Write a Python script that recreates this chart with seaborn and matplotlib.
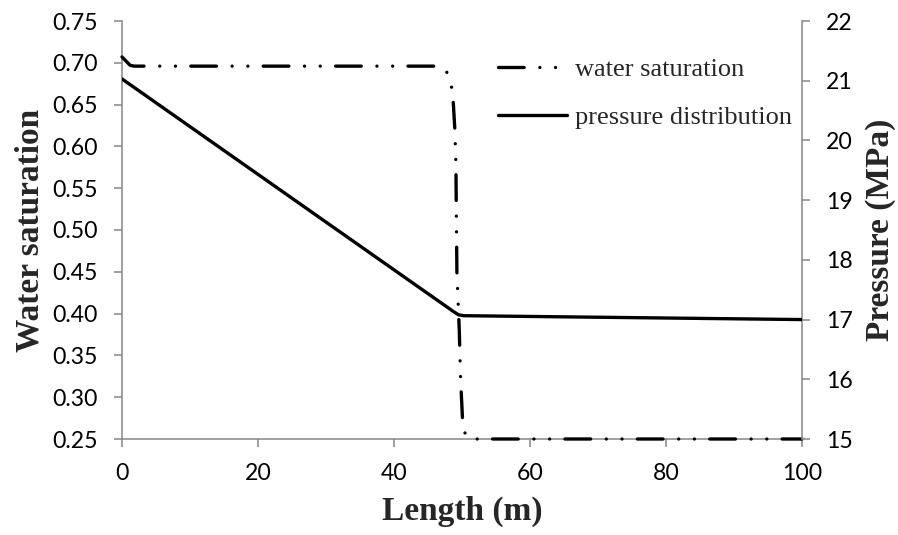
import matplotlib
matplotlib.use("Agg")
import matplotlib.pyplot as plt
import seaborn as sns
import pandas as pd

# ---- data ----
sat_length = [0, 1.2, 1.8, 10, 20, 30, 40, 46.6, 47.4, 47.9, 48.4, 48.7, 48.95,
              49.1, 49.25, 49.6, 49.8, 50.1, 50.5, 51.0, 60, 80, 100]
water_saturation = [0.707, 0.697, 0.696, 0.696, 0.696, 0.696, 0.696, 0.696, 0.693,
                    0.687, 0.675, 0.655, 0.620, 0.580, 0.450, 0.380, 0.320, 0.270,
                    0.255, 0.250, 0.250, 0.250, 0.250]
p_length = [0, 48.8, 49.5, 50.2, 100]
pressure = [21.03, 17.13, 17.08, 17.065, 17.0]

sat_ticks = [0.25, 0.30, 0.35, 0.40, 0.45, 0.50, 0.55, 0.60, 0.65, 0.70, 0.75]
p_ticks = [15, 16, 17, 18, 19, 20, 21, 22]
x_ticks = [0, 20, 40, 60, 80, 100]

df_sat = pd.DataFrame({"Length": sat_length, "Sw": water_saturation})
df_p = pd.DataFrame({"Length": p_length, "P": pressure})

sns.set_theme(style="white")
plt.rcParams["font.family"] = ["Lato", "DejaVu Sans"]

fig = plt.figure(figsize=(8.98, 5.35), dpi=100)
ax = fig.add_axes([122 / 898, 1 - 439 / 535, 680 / 898, 418 / 535])
ax2 = ax.twinx()

lw = 2.4
sat_style = (0, (7.7, 4.7, 0.01, 4.7, 0.01, 4.6))
sns.lineplot(data=df_sat, x="Length", y="Sw", ax=ax, color="black", lw=lw,
             linestyle=sat_style, dash_capstyle="round", label="water saturation",
             legend=False, sort=False, estimator=None, clip_on=False, zorder=5)
sns.lineplot(data=df_p, x="Length", y="P", ax=ax2, color="black", lw=lw,
             label="pressure distribution", legend=False, sort=False, estimator=None,
             zorder=5)

ax.set_xlim(0, 100)
ax.set_ylim(0.25, 0.75)
ax2.set_ylim(15, 22)
ax.set_xticks(x_ticks)
ax.set_yticks(sat_ticks)
ax.set_yticklabels([f"{v:.2f}" for v in sat_ticks])
ax2.set_yticks(p_ticks)

spine_c = "#868686"
for a in (ax, ax2):
    for s in a.spines.values():
        s.set_color(spine_c)
        s.set_linewidth(1.1)
        s.set_zorder(1)
    a.spines["top"].set_visible(False)
    a.grid(False)
ax.spines["right"].set_visible(False)
ax2.spines["left"].set_visible(False)
ax2.spines["bottom"].set_visible(False)

ax.tick_params(axis="both", which="major", direction="out", length=5.5, width=1.1,
               color=spine_c, labelsize=16.6, labelcolor="black", pad=12,
               left=True, bottom=True)
ax2.tick_params(axis="y", direction="out", length=5.5, width=1.1, color=spine_c,
                labelsize=16.6, labelcolor="black", pad=12, right=True)

serif = ["Liberation Serif", "DejaVu Serif"]
ax.set_xlabel("Length (m)", fontsize=24, fontweight="bold", family=serif)
ax.set_ylabel("Water saturation", fontsize=24, fontweight="bold", family=serif)
ax2.set_ylabel("Pressure (MPa)", fontsize=24, fontweight="bold", family=serif)
ax.xaxis.set_label_coords(0.5, -0.135)
ax.yaxis.set_label_coords(-0.112, 0.5)
ax2.yaxis.set_label_coords(1.093, 0.5)

h1, l1 = ax.get_legend_handles_labels()
h2, l2 = ax2.get_legend_handles_labels()
leg = ax2.legend(h1 + h2, l1 + l2, loc="upper left",
                 bbox_to_anchor=(498 / 898, 1 - 58 / 535),
                 bbox_transform=fig.transFigure, frameon=False,
                 prop={"family": serif, "size": 19}, handlelength=2.6,
                 handletextpad=0.3, labelspacing=0.92, borderpad=0,
                 borderaxespad=0)

fig.savefig("out.png", dpi=100)
